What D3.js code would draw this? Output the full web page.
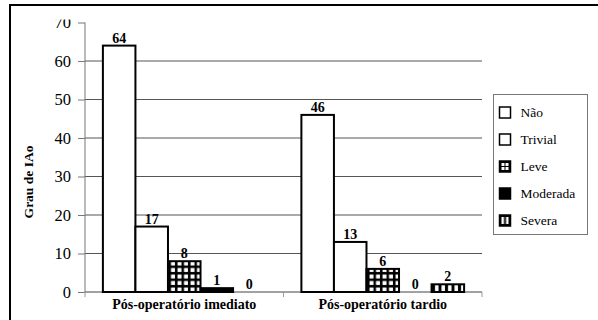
<!DOCTYPE html>
<html>
<head>
<meta charset="utf-8">
<script src="https://cdn.jsdelivr.net/npm/d3@7"></script>
</head>
<body style="margin:0;background:#fff">
<svg id="grafico" width="598" height="320" style="display:block"></svg>
<script>
// Categories, series and values
const groups = ["Pós-operatório imediato", "Pós-operatório tardio"];
const series = ["Não", "Trivial", "Leve", "Moderada", "Severa"];
const imediato = [64, 17, 8, 1, 0];
const tardio = [46, 13, 6, 0, 2];
const yTicks = [0, 10, 20, 30, 40, 50, 60, 70];
const yTitle = "Grau de IAo";

const values = [imediato, tardio];
const SERIF = "'Liberation Serif'";

// Apply the serif face to a text selection
function serif(sel, size, weight) {
  sel.attr("font-family", "Liberation Serif")
    .each(function () {
      this.style.setProperty("font-family", SERIF, "important");
      this.style.setProperty("font-size", size + "px", "important");
      this.style.setProperty("font-weight", weight || "normal", "important");
    });
  return sel;
}

const svg = d3.select("#grafico");
const W = 598, H = 320;
const margin = { top: 22.5, left: 85, right: 116, bottom: 28 };
const plotBottom = H - margin.bottom;

// Fill patterns
const defs = svg.append("defs");
const grid = defs.append("pattern").attr("id", "pat-leve")
  .attr("patternUnits", "userSpaceOnUse").attr("width", 6.5).attr("height", 6.5);
grid.append("rect").attr("width", 6.5).attr("height", 6.5).attr("fill", "#000");
grid.append("rect").attr("x", 1.5).attr("y", 1.5).attr("width", 4).attr("height", 4).attr("fill", "#fff");

const stripes = defs.append("pattern").attr("id", "pat-severa")
  .attr("patternUnits", "userSpaceOnUse").attr("width", 6.5).attr("height", 6.5);
stripes.append("rect").attr("width", 6.5).attr("height", 6.5).attr("fill", "#000");
stripes.append("rect").attr("x", 2).attr("y", 0).attr("width", 3.5).attr("height", 6.5).attr("fill", "#fff");

const legGrid = defs.append("pattern").attr("id", "pat-leve-leg")
  .attr("patternUnits", "objectBoundingBox").attr("width", 1).attr("height", 1);
legGrid.append("rect").attr("width", 11).attr("height", 11).attr("fill", "#000");
[[2, 2], [6, 2], [2, 6], [6, 6]].forEach(([px, py]) =>
  legGrid.append("rect").attr("x", px).attr("y", py).attr("width", 3).attr("height", 3).attr("fill", "#fff"));

const legStripe = defs.append("pattern").attr("id", "pat-severa-leg")
  .attr("patternUnits", "objectBoundingBox").attr("width", 1).attr("height", 1);
legStripe.append("rect").attr("width", 11).attr("height", 11).attr("fill", "#000");
[2, 6.5].forEach(px =>
  legStripe.append("rect").attr("x", px).attr("y", 2).attr("width", 2.5).attr("height", 7).attr("fill", "#fff"));

const fills = {
  "Não": "#fff", "Trivial": "#fff", "Leve": "url(#pat-leve)",
  "Moderada": "#000", "Severa": "url(#pat-severa)"
};
const legendFills = {
  "Não": "#fff", "Trivial": "#fff", "Leve": "url(#pat-leve-leg)",
  "Moderada": "#000", "Severa": "url(#pat-severa-leg)"
};

// Scales
const x0 = d3.scaleBand().domain(groups).range([margin.left, W - margin.right]).padding(0);
const x1 = d3.scaleBand().domain(series).range([0, x0.bandwidth()]).paddingInner(0).paddingOuter(0.55);
const y = d3.scaleLinear().domain([0, 70]).range([plotBottom, margin.top]);

// Outer frame
svg.append("rect").attr("x", 10).attr("y", 5).attr("width", 620).attr("height", 340)
  .attr("fill", "none").attr("stroke", "#000").attr("stroke-width", 2);

// Gridlines
svg.append("g").selectAll("line").data(yTicks.filter(t => t > 0 && t < 70)).join("line")
  .attr("x1", margin.left).attr("x2", W - margin.right)
  .attr("y1", d => y(d)).attr("y2", d => y(d))
  .attr("stroke", "#555").attr("stroke-width", 1);

// Y axis
const yAxis = d3.axisLeft(y).tickValues(yTicks).tickSize(7).tickPadding(7).tickFormat(d3.format("d"));
defs.append("clipPath").attr("id", "clip-y")
  .append("rect").attr("x", -100).attr("y", -3.5).attr("width", 200).attr("height", 40);
const gy = svg.append("g").attr("transform", `translate(${margin.left},0)`).call(yAxis);
gy.attr("font-family", "Liberation Serif").attr("font-size", 16.5);
gy.select(".domain").attr("stroke", "#777").attr("d", `M0,${margin.top}V${plotBottom}`);
gy.selectAll(".tick line").attr("stroke", "#777");
serif(gy.selectAll(".tick text"), 16.5).attr("fill", "#000");
gy.selectAll(".tick").filter(d => d === 70).select("text")
  .attr("clip-path", "url(#clip-y)");

// X axis
const gx = svg.append("g").attr("transform", `translate(0,${plotBottom})`);
gx.append("line").attr("x1", margin.left).attr("x2", W - margin.right)
  .attr("stroke", "#444").attr("stroke-width", 1);
const bounds = [x0.range()[0], ...groups.map(g => x0(g) + x0.bandwidth())];
gx.selectAll("line.tk").data(bounds).join("line").attr("class", "tk")
  .attr("x1", d => d).attr("x2", d => d).attr("y1", 0).attr("y2", 5)
  .attr("stroke", "#999");
serif(gx.selectAll("text").data(groups).join("text")
  .attr("x", d => x0(d) + x0.bandwidth() / 2).attr("y", 17)
  .attr("text-anchor", "middle")
  .text(d => d), 14, "bold");

// Bars
const gBars = svg.append("g");
groups.forEach((g, gi) => {
  const rows = series.map((s, si) => ({ s, v: values[gi][si] }));
  const gg = gBars.append("g").attr("transform", `translate(${x0(g)},0)`);
  gg.selectAll("rect").data(rows.filter(d => d.v > 0)).join("rect")
    .attr("x", d => x1(d.s)).attr("width", x1.bandwidth())
    .attr("y", d => y(d.v)).attr("height", d => y(0) - y(d.v))
    .attr("fill", d => fills[d.s]).attr("stroke", "#000").attr("stroke-width", 2);
  serif(gg.selectAll("text").data(rows).join("text")
    .attr("x", d => x1(d.s) + x1.bandwidth() / 2)
    .attr("y", d => y(d.v) - 3)
    .attr("text-anchor", "middle")
    .text(d => d.v), 14, "bold");
});

// Y title
serif(svg.append("text")
  .attr("transform", `translate(33,182) rotate(-90)`)
  .attr("text-anchor", "middle")
  .text(yTitle), 13.5, "bold");

// Legend
const legend = svg.append("g").attr("transform", "translate(493.5,94.5)");
legend.append("rect").attr("width", 94).attr("height", 140)
  .attr("fill", "#fff").attr("stroke", "#777").attr("stroke-width", 1);
const ly = d3.scalePoint().domain(series).range([18, 126]);
const items = legend.selectAll("g.item").data(series).join("g").attr("class", "item")
  .attr("transform", d => `translate(0,${ly(d)})`);
items.append("rect").attr("x", 6).attr("y", -5.5).attr("width", 11).attr("height", 11)
  .attr("fill", d => legendFills[d]).attr("stroke", "#000").attr("stroke-width", 1.5);
serif(items.append("text").attr("x", 27).attr("y", 4.5).text(d => d), 13.5);
</script>
</body>
</html>
